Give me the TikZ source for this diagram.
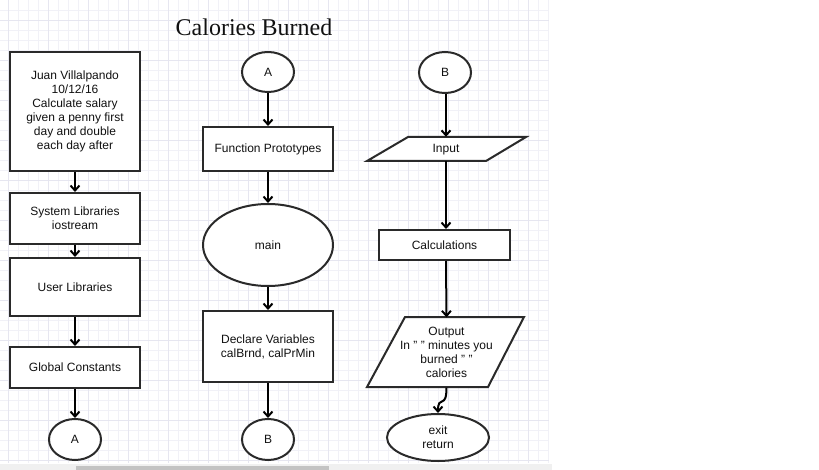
\documentclass[tikz,border=0pt]{standalone}
\usepackage{fontspec}
\setmainfont{Liberation Sans}
\newfontfamily\titlefont{Liberation Serif}
\usetikzlibrary{arrows.meta,shapes.geometric}
\definecolor{gridminor}{HTML}{F1F1F7}
\definecolor{gridmajor}{HTML}{E6E6F0}
\definecolor{edgecol}{HTML}{2A2A2A}
\definecolor{txtcol}{HTML}{111111}
\definecolor{barbg}{HTML}{F0F0F0}
\definecolor{barthumb}{HTML}{C3C3C3}
\tikzset{
  boxstyle/.style={draw=edgecol, line width=2pt, fill=white, rectangle, inner sep=0pt,
    align=center, text=txtcol, font=\fontsize{12}{14}\selectfont},
  ovalstyle/.style={draw=edgecol, line width=2pt, fill=white, ellipse, inner sep=0pt,
    align=center, text=txtcol, font=\fontsize{12}{14}\selectfont},
  textonly/.style={inner sep=0pt, align=center, text=txtcol, font=\fontsize{12}{14}\selectfont},
  polystyle/.style={draw=edgecol, line width=2pt, fill=white, line join=miter},
  arr/.style={draw=black, line width=2pt, -{Straight Barb[length=5pt,width=9pt,line width=2pt]}},
}
\begin{document}
\begin{tikzpicture}[x=1pt,y=-1pt]
\useasboundingbox (0,0) rectangle (819,470);
\fill[white] (0,0) rectangle (819,470);
% grid
\foreach \x in {8.5,18.5,...,548.5} \draw[gridminor, line width=1pt] (\x,0) -- (\x,463);
\foreach \y in {10.5,20.5,...,460.5} \draw[gridminor, line width=1pt] (0,\y) -- (549,\y);
\foreach \x in {8.5,48.5,...,548.5} \draw[gridmajor, line width=1pt] (\x,0) -- (\x,463);
\foreach \y in {20.5,60.5,...,460.5} \draw[gridmajor, line width=1pt] (0,\y) -- (549,\y);
% scrollbar
\fill[barbg] (0,464) rectangle (552,470);
\fill[barthumb] (76,465.5) rectangle (329,470);

% title
\node[anchor=base, inner sep=0pt, text=txtcol, font=\titlefont\fontsize{24}{28}\selectfont] (title) at (254,36) {Calories Burned};

% left column
\node[boxstyle, minimum width=130, minimum height=119] (b1) at (75,111.5)
  {Juan Villalpando\\10/12/16\\Calculate salary\\given a penny first\\day and double\\each day after};
\node[boxstyle, minimum width=130, minimum height=51] (b2) at (75,218.5) {System Libraries\\iostream};
\node[boxstyle, minimum width=130, minimum height=58] (b3) at (75,287) {User Libraries};
\node[boxstyle, minimum width=130, minimum height=41] (b4) at (75,367.5) {Global Constants};
\node[ovalstyle, minimum width=52, minimum height=41] (cA1) at (75,439.5) {A};

% middle column
\node[ovalstyle, minimum width=52, minimum height=40] (cA2) at (268,72) {A};
\node[boxstyle, minimum width=130, minimum height=44] (fp) at (268,149) {Function Prototypes};
\node[ovalstyle, minimum width=130, minimum height=82] (mn) at (268,245) {main};
\node[boxstyle, minimum width=130, minimum height=71] (dv) at (268,346.5) {Declare Variables\\calBrnd, calPrMin};
\node[ovalstyle, minimum width=52, minimum height=41] (cB1) at (268,439.5) {B};

% right column
\node[ovalstyle, minimum width=52, minimum height=41] (cB2) at (445,72.5) {B};
\draw[polystyle] (408,137) -- (526,137) -- (486,161) -- (367,161) -- cycle;
\node[textonly, minimum width=80, minimum height=24] (inp) at (446,149) {};
\node[textonly, anchor=base] (inptxt) at (446,153) {Input};
\node[boxstyle, minimum width=131, minimum height=30] (calc) at (444.5,245) {Calculations};
\draw[polystyle] (405,317) -- (524,317) -- (488,387) -- (367,387) -- cycle;
\node[textonly, minimum width=80, minimum height=70] (outp) at (446.5,352.5) {Output\\In " " minutes you\\burned " "\\calories};
\node[ovalstyle, minimum width=102, minimum height=47] (ex) at (438,437.5) {exit\\return};

% connectors
\draw[arr] (b1) -- (b2);
\draw[arr] (b2) -- (b3);
\draw[arr] (b3) -- (b4);
\draw[arr] (b4) -- (cA1);
\draw[arr] (cA2) -- (fp);
\draw[arr] (fp) -- (mn);
\draw[arr] (mn) -- (dv);
\draw[arr] (dv) -- (cB1);
\draw[arr] (cB2.south -| inp.north) -- (inp.north);
\draw[arr] (inp.south) -- (inp.south |- calc.north);
\draw[arr] (inp.south |- calc.south) -- (outp.north);
\draw[arr] (outp.south) .. controls (446.5,410) and (438,394) .. (ex.north);
\end{tikzpicture}
\end{document}
